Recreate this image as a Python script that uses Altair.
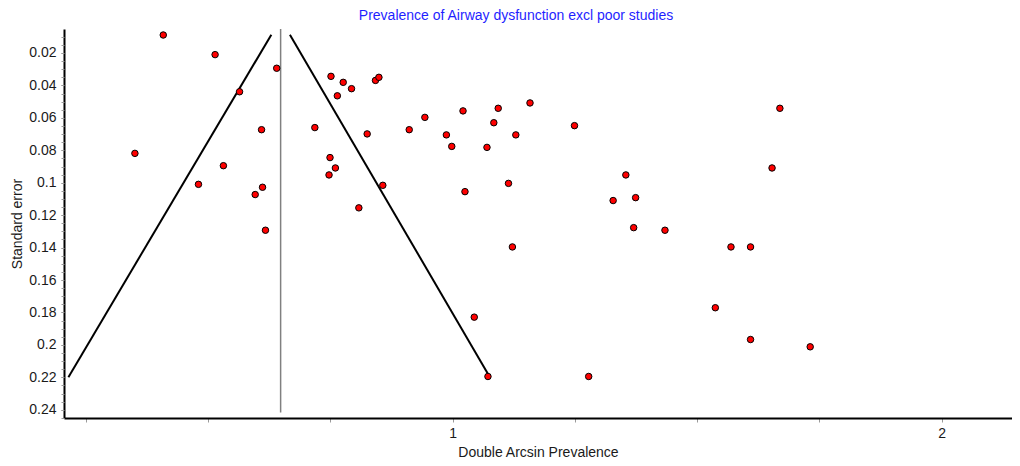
import altair as alt
import pandas as pd

title_text = "Prevalence of Airway dysfunction excl poor studies"
x_title = "Double Arcsin Prevalence"
y_title = "Standard error"

# Study estimates (double arcsine prevalence) and their standard errors
prevalence = [
    0.408, 0.514, 0.640, 0.564, 0.609, 0.350, 0.531, 0.480, 0.611, 0.596, 0.617,
    0.751, 0.764, 0.718, 0.749, 0.760, 0.747, 0.776, 0.793, 0.842, 0.849, 0.825,
    0.911, 0.943, 0.987, 0.998, 1.021, 1.070, 1.084, 1.093, 1.129, 1.158, 1.249,
    0.857, 0.808, 1.025, 1.114,
    1.354, 1.328, 1.374, 1.370, 1.434, 1.122, 1.044, 1.072, 1.278, 1.669, 1.653,
    1.569, 1.609, 1.537, 1.609, 1.731, 2.164,
]
std_error = [
    0.0089, 0.0210, 0.0294, 0.0439, 0.0673, 0.0819, 0.0895, 0.1010, 0.1028, 0.1073, 0.1293,
    0.0344, 0.0464, 0.0660, 0.0845, 0.0909, 0.0952, 0.0381, 0.0420, 0.0369, 0.0350, 0.0699,
    0.0673, 0.0597, 0.0705, 0.0776, 0.0557, 0.0782, 0.0630, 0.0541, 0.0705, 0.0508, 0.0648,
    0.1016, 0.1155, 0.1055, 0.1004,
    0.0952, 0.1110, 0.1092, 0.1277, 0.1293, 0.1396, 0.1829, 0.2195, 0.2195, 0.0541, 0.0909,
    0.1396, 0.1396, 0.1771, 0.1967, 0.2012, 0.1525,
]

# Pooled estimate line and funnel limits (endpoints)
pooled_x = [0.648]
pooled_top = [0.0052]
pooled_bottom = [0.2417]
funnel_side = ["left", "right"]
funnel_x_top = [0.629, 0.667]
funnel_se_top = [0.0087, 0.0087]
funnel_x_bottom = [0.214, 1.076]
funnel_se_bottom = [0.2199, 0.2199]

x_ticks = [0.25, 0.5, 0.75, 1.0, 1.25, 1.5, 1.75, 2.0]
x_labels = {1.0: "1", 2.0: "2"}
y_label_values = [0.02, 0.04, 0.06, 0.08, 0.10, 0.12, 0.14, 0.16, 0.18, 0.20, 0.22, 0.24]
y_minor_ticks = [i / 1000 for i in range(5, 246, 5)]

x_domain = [0.205, 2.1437]
y_domain = [0.0052, 0.2451]

FONT = "Liberation Sans"
TEXT = "#1a1a1a"
TICK = "#9a9a9a"


def label_expr(mapping, tol):
    expr = "''"
    for v, s in reversed(list(mapping.items())):
        expr = f"(datum.value > {v - tol} && datum.value < {v + tol}) ? '{s}' : ({expr})"
    return expr


pts = pd.DataFrame({"prev": prevalence, "se": std_error})
pool = pd.DataFrame({"x": pooled_x, "y": pooled_top, "y2": pooled_bottom})
fun = pd.DataFrame({
    "side": funnel_side,
    "x": funnel_x_top, "y": funnel_se_top,
    "x2": funnel_x_bottom, "y2": funnel_se_bottom,
})
ttl = pd.DataFrame({"t": [title_text]})

x_scale = alt.Scale(domain=x_domain, nice=False, zero=False)
y_scale = alt.Scale(domain=y_domain, nice=False, zero=False, reverse=True)

x_axis = alt.Axis(
    title=x_title, values=x_ticks, labelExpr=label_expr(x_labels, 0.01),
    grid=False, domainColor="black", domainWidth=2,
    tickColor=TICK, tickSize=4, tickWidth=1,
    labelFont=FONT, labelFontSize=14, labelColor=TEXT, labelPadding=4,
    titleFont=FONT, titleFontSize=14, titleFontWeight="normal", titleColor=TEXT,
    titleBaseline="alphabetic", titleY=38,
    labelFlush=False, labelOverlap=False,
)
y_axis_major = alt.Axis(
    orient="left", title=y_title, values=y_label_values, format="~g",
    grid=False, domainColor="black", domainWidth=2,
    tickColor=TICK, tickSize=3, tickWidth=1,
    labelFont=FONT, labelFontSize=14, labelColor=TEXT, labelPadding=5,
    titleFont=FONT, titleFontSize=14, titleFontWeight="normal", titleColor=TEXT,
    titlePadding=4, labelFlush=False, labelOverlap=False,
)
y_axis_minor = alt.Axis(
    orient="left", title=None, values=y_minor_ticks, labels=False, domain=False,
    grid=False, tickColor=TICK, tickSize=3, tickWidth=1,
)

pool_layer = alt.Chart(pool).mark_rule(color="#808080", strokeWidth=1.5).encode(
    x=alt.X("x:Q", scale=x_scale, axis=x_axis),
    y=alt.Y("y:Q", scale=y_scale, axis=y_axis_major),
    y2="y2:Q",
)

funnel_layer = alt.Chart(fun).mark_rule(color="black", strokeWidth=2).encode(
    x=alt.X("x:Q", scale=x_scale),
    y=alt.Y("y:Q", scale=y_scale, axis=y_axis_minor),
    x2="x2:Q",
    y2="y2:Q",
)

point_layer = alt.Chart(pts).mark_point(
    shape="circle", filled=True, fill="#ff0000", stroke="black",
    strokeWidth=1, size=42, opacity=1,
).encode(
    x=alt.X("prev:Q", scale=x_scale),
    y=alt.Y("se:Q", scale=y_scale, axis=None),
)

title_layer = alt.Chart(ttl).mark_text(
    font=FONT, fontSize=14, color="#1f1fff", align="center", baseline="middle",
).encode(
    text="t:N",
    x=alt.value(452),
    y=alt.value(-13),
)

chart = alt.layer(pool_layer, funnel_layer, point_layer, title_layer).resolve_axis(
    y="independent"
).properties(
    width=948,
    height=389,
    autosize=alt.AutoSizeParams(type="none"),
    padding={"left": 56, "top": 21, "right": 0, "bottom": 42},
    background="white",
).configure_view(stroke=None)

chart.save("out.html", embed_options={"renderer": "svg", "actions": False})
